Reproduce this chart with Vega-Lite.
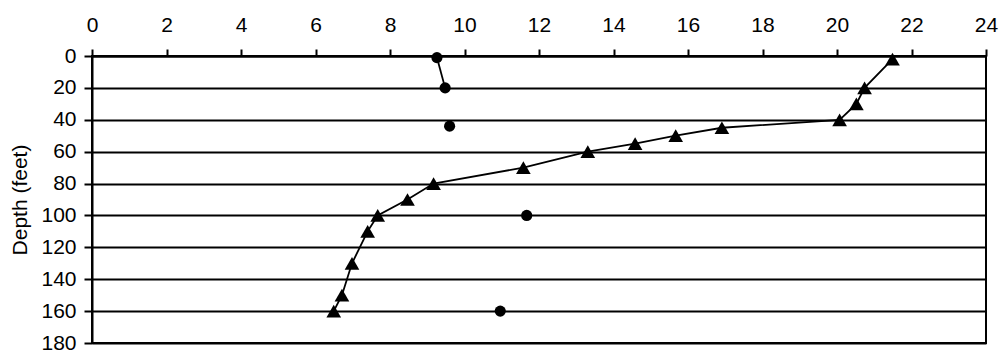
{
  "$schema": "https://vega.github.io/schema/vega-lite/v6.json",
  "autosize": {"type": "none"},
  "padding": {"left": 92, "top": 56, "right": 14, "bottom": 11},
  "width": 894,
  "height": 287,
  "background": "white",
  "config": {
    "font": "Liberation Sans",
    "view": {"stroke": "black", "strokeWidth": 2}
  },
  "data": {
    "values": [
      {"series": "C", "grp": "c1", "value": 9.26, "depth": 1},
      {"series": "C", "grp": "c1", "value": 9.48, "depth": 20},
      {"series": "C", "grp": "c2", "value": 9.6, "depth": 44},
      {"series": "C", "grp": "c3", "value": 11.67, "depth": 100},
      {"series": "C", "grp": "c4", "value": 10.96, "depth": 160},
      {"series": "T", "grp": "t", "value": 21.49, "depth": 2},
      {"series": "T", "grp": "t", "value": 20.74, "depth": 20},
      {"series": "T", "grp": "t", "value": 20.52, "depth": 30},
      {"series": "T", "grp": "t", "value": 20.07, "depth": 40},
      {"series": "T", "grp": "t", "value": 16.91, "depth": 45},
      {"series": "T", "grp": "t", "value": 15.67, "depth": 50},
      {"series": "T", "grp": "t", "value": 14.58, "depth": 55},
      {"series": "T", "grp": "t", "value": 13.31, "depth": 60},
      {"series": "T", "grp": "t", "value": 11.58, "depth": 70},
      {"series": "T", "grp": "t", "value": 9.17, "depth": 80},
      {"series": "T", "grp": "t", "value": 8.47, "depth": 90},
      {"series": "T", "grp": "t", "value": 7.67, "depth": 100},
      {"series": "T", "grp": "t", "value": 7.4, "depth": 110},
      {"series": "T", "grp": "t", "value": 6.98, "depth": 130},
      {"series": "T", "grp": "t", "value": 6.71, "depth": 150},
      {"series": "T", "grp": "t", "value": 6.49, "depth": 160}
    ]
  },
  "encoding": {
    "x": {
      "field": "value",
      "type": "quantitative",
      "scale": {"domain": [0, 24], "nice": false, "zero": false},
      "axis": {
        "orient": "top",
        "values": [0, 2, 4, 6, 8, 10, 12, 14, 16, 18, 20, 22, 24],
        "grid": false,
        "title": null,
        "tickSize": 7,
        "tickWidth": 2,
        "tickColor": "black",
        "domainColor": "black",
        "domainWidth": 2,
        "labelFont": "Liberation Sans",
        "labelFontSize": 21,
        "labelColor": "black",
        "labelPadding": 14,
        "labelFlush": false,
        "labelOverlap": false
      }
    },
    "y": {
      "field": "depth",
      "type": "quantitative",
      "scale": {"domain": [0, 180], "reverse": true, "nice": false, "zero": false},
      "axis": {
        "orient": "left",
        "values": [0, 20, 40, 60, 80, 100, 120, 140, 160, 180],
        "grid": true,
        "gridColor": "black",
        "gridWidth": 2,
        "gridOpacity": 1,
        "tickSize": 8,
        "tickWidth": 2,
        "tickColor": "black",
        "domainColor": "black",
        "domainWidth": 2,
        "labelFont": "Liberation Sans",
        "labelFontSize": 21,
        "labelColor": "black",
        "labelPadding": 8,
        "labelFlush": false,
        "labelOverlap": false,
        "title": "Depth (feet)",
        "titleFont": "Liberation Sans",
        "titleFontSize": 21,
        "titleFontWeight": "normal",
        "titleColor": "black",
        "titleAngle": 270,
        "titleBaseline": "alphabetic",
        "titleAlign": "center",
        "titleX": -66,
        "titleY": 143.5
      }
    }
  },
  "layer": [
    {
      "mark": {"type": "line", "color": "black", "strokeWidth": 1.8},
      "encoding": {
        "detail": {"field": "grp"},
        "order": {"field": "depth", "type": "quantitative"}
      }
    },
    {
      "mark": {"type": "point", "filled": true, "color": "black", "opacity": 1},
      "encoding": {
        "shape": {
          "field": "series",
          "type": "nominal",
          "scale": {"domain": ["C", "T"], "range": ["circle", "triangle-up"]},
          "legend": null
        },
        "size": {
          "field": "series",
          "type": "nominal",
          "scale": {"domain": ["C", "T"], "range": [125, 215]},
          "legend": null
        }
      }
    }
  ]
}
